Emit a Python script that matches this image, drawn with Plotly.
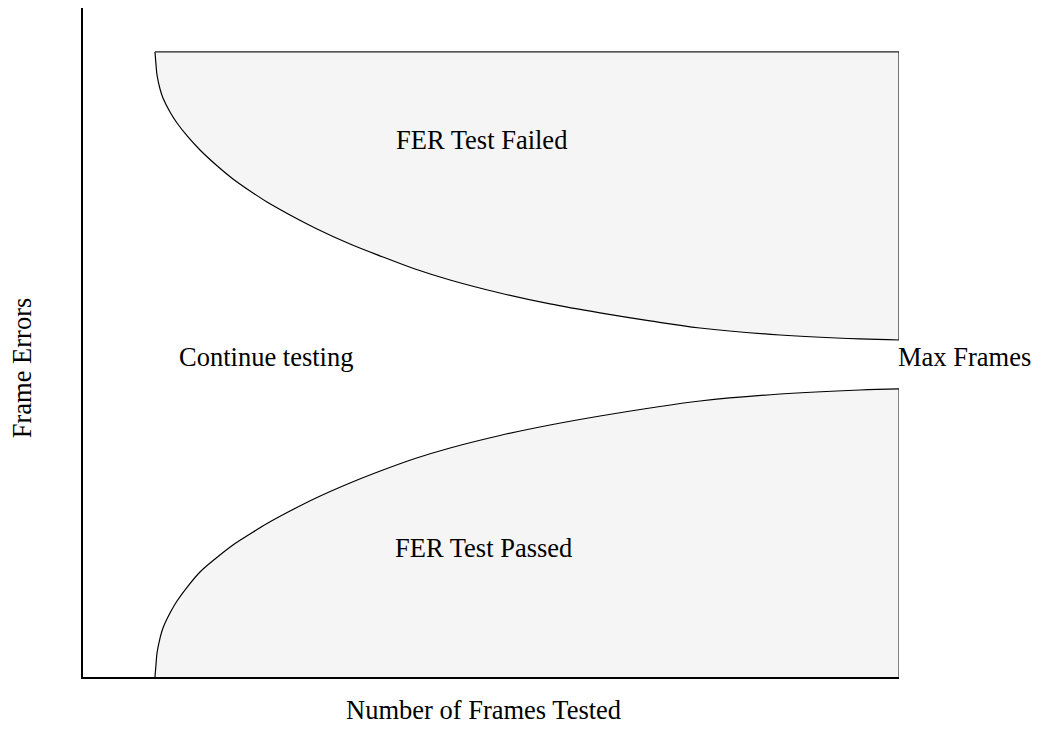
import plotly.graph_objects as go

# Frontera superior (prueba fallida)
frames_upper = [88.2, 89.5, 90.7, 94.4, 98.0, 106.6, 115.2, 128.7, 143.4, 161.8, 183.8, 204.7, 225.5,
                253.7, 286.8, 327.2, 367.6, 406.9, 449.8, 511.0, 572.3, 633.6, 694.9, 756.1, 854.2, 952.2, 1000]
errors_upper = [93.01, 91.07, 89.58, 87.50, 86.16, 84.08, 82.44, 80.36, 78.42, 76.34, 74.11, 72.32, 70.68,
                68.75, 66.67, 64.43, 62.50, 60.71, 59.08, 57.14, 55.51, 54.17, 52.98, 51.93, 50.89, 50.30, 50.15]

# Frontera inferior (prueba superada)
frames_lower = frames_upper
errors_lower = [0, 1.93, 3.57, 5.80, 7.29, 9.52, 11.31, 13.54, 15.63, 17.56, 19.64, 21.28, 22.84,
                24.70, 26.71, 28.87, 30.80, 32.51, 34.08, 35.94, 37.50, 38.84, 40.03, 41.07, 42.11, 42.71, 42.86]

max_frames = 1000
top_errors = 93.01

FONT = 'Liberation Serif, Times New Roman, serif'
FILL = '#f5f5f5'

fig = go.Figure()

# region superior: borde superior + borde derecho + curva de vuelta
xu = [frames_upper[0], max_frames] + frames_upper[::-1]
yu = [top_errors, top_errors] + errors_upper[::-1]
fig.add_trace(go.Scatter(x=xu, y=yu, fill='toself', fillcolor=FILL,
                         mode='lines', line=dict(width=0), hoverinfo='skip'))

# region inferior
xl = frames_lower + [max_frames, frames_lower[0]]
yl = errors_lower + [0, 0]
fig.add_trace(go.Scatter(x=xl, y=yl, fill='toself', fillcolor=FILL,
                         mode='lines', line=dict(width=0), hoverinfo='skip'))

# curvas
for xs, ys in [(frames_upper, errors_upper), (frames_lower, errors_lower)]:
    fig.add_trace(go.Scatter(x=xs, y=ys, mode='lines',
                             line=dict(color='black', width=1.2, shape='spline', smoothing=1.0),
                             hoverinfo='skip'))

# bordes rectos
fig.add_trace(go.Scatter(x=[frames_upper[0], max_frames, max_frames],
                         y=[top_errors, top_errors, errors_upper[-1]],
                         mode='lines', line=dict(color='#222', width=1.2), hoverinfo='skip'))
fig.add_trace(go.Scatter(x=[max_frames, max_frames], y=[errors_lower[-1], 0],
                         mode='lines', line=dict(color='#333', width=1.2), hoverinfo='skip'))

labels = [
    dict(x=488, y=79.9, text='FER Test Failed', xanchor='center', xshift=0),
    dict(x=491, y=19.2, text='FER Test Passed', xanchor='center', xshift=0),
    dict(x=224, y=47.6, text='Continue testing', xanchor='center', xshift=0),
    dict(x=max_frames, y=47.6, text='Max Frames', xanchor='left', xshift=-3),
]
for a in labels:
    fig.add_annotation(x=a['x'], y=a['y'], text=a['text'], xanchor=a['xanchor'], xshift=a['xshift'],
                       yanchor='middle', showarrow=False, xref='x', yref='y',
                       font=dict(family=FONT, size=26.5, color='black'))

fig.add_annotation(x=0.491, y=-0.0493, xref='paper', yref='paper', text='Number of Frames Tested',
                   showarrow=False, xanchor='center', yanchor='middle',
                   font=dict(family=FONT, size=26.5, color='black'))
fig.add_annotation(x=-0.0748, y=0.463, xref='paper', yref='paper', text='Frame Errors',
                   textangle=-90, showarrow=False, xanchor='center', yanchor='middle',
                   font=dict(family=FONT, size=26.5, color='black'))

# la pagina deja 8px de margen por lado: la figura cabe en la ventana sin barras de scroll
fig.update_layout(
    width=1023, height=716,
    margin=dict(l=75, r=132, t=0, b=47),
    paper_bgcolor='white', plot_bgcolor='white',
    showlegend=False,
    xaxis=dict(range=[0, max_frames], showgrid=False, zeroline=False, showticklabels=False,
               ticks='', showline=True, linecolor='black', linewidth=2, fixedrange=True),
    yaxis=dict(range=[0, 99.55], showgrid=False, zeroline=False, showticklabels=False,
               ticks='', showline=True, linecolor='black', linewidth=2, fixedrange=True),
)

fig.write_html("out.html")
